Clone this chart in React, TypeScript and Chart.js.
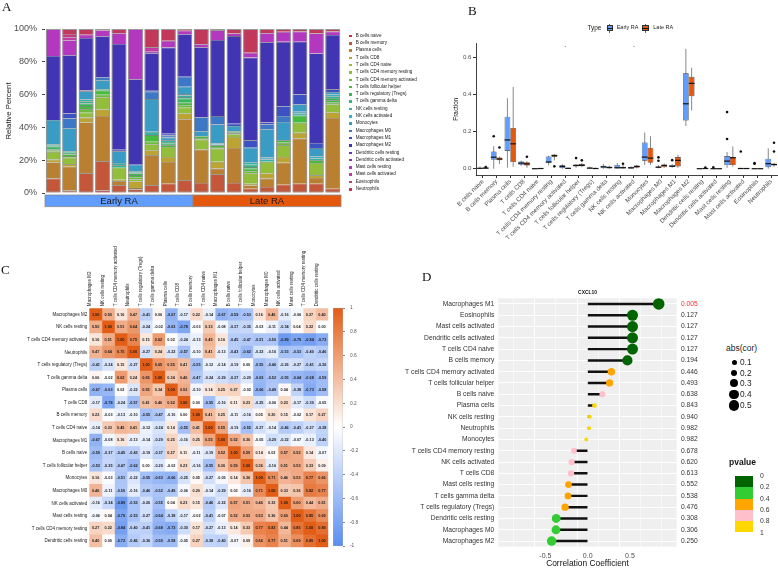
import React, { useEffect, useRef } from 'react';
import { Chart, registerables } from 'chart.js';

Chart.register(...registerables);

const FONT = "'Liberation Sans', Arial, Helvetica, sans-serif";
const SERIF = "'Liberation Serif', 'Times New Roman', serif";
const EARLY = '#619CFF';
const LATE = '#E4570C';

// ---------------- Panel A : relative composition ----------------
const cellTypes = [
  'B cells naive', 'B cells memory', 'Plasma cells', 'T cells CD8', 'T cells CD4 naive',
  'T cells CD4 memory resting', 'T cells CD4 memory activated', 'T cells follicular helper',
  'T cells regulatory (Tregs)', 'T cells gamma delta', 'NK cells resting', 'NK cells activated',
  'Monocytes', 'Macrophages M0', 'Macrophages M1', 'Macrophages M2', 'Dendritic cells resting',
  'Dendritic cells activated', 'Mast cells resting', 'Mast cells activated', 'Eosinophils', 'Neutrophils',
];
const cellColors = [
  '#C8323C', '#C4573A', '#B98032', '#BBA432', '#A7B534', '#93BE3C', '#6CBB3A', '#45BC3C',
  '#38B85A', '#36B581', '#35B3A2', '#37B2C2', '#3A9CC4', '#3C78C6', '#3C52C4', '#4235B4',
  '#6534BC', '#8934BC', '#B338BF', '#C23AA6', '#C23A7E', '#C2385A',
];
const sampleIds = ['E1', 'E2', 'E3', 'E4', 'E5', 'E6', 'E7', 'E8', 'E9', 'L1', 'L2', 'L3', 'L4', 'L5', 'L6', 'L7', 'L8', 'L9'];
const sampleGroups = ['Early RA', 'Early RA', 'Early RA', 'Early RA', 'Early RA', 'Early RA', 'Early RA', 'Early RA', 'Early RA',
  'Late RA', 'Late RA', 'Late RA', 'Late RA', 'Late RA', 'Late RA', 'Late RA', 'Late RA', 'Late RA'];
const groupNames = ['Early RA', 'Late RA'];
const groupColors = [EARLY, LATE];

const pctBNaive = [0, 0.5, 0, 1.6, 0, 0.4, 0, 0, 0, 0, 0, 0, 0, 0, 0, 0.6, 0, 0.6];
const pctBMemory = [8.8, 1, 12, 17.7, 4.7, 1.8, 4.7, 5.7, 7.7, 6.1, 11.4, 6.1, 2.6, 3.7, 5.1, 5.1, 5.7, 2];
const pctPlasma = [9.8, 14.5, 31, 27.7, 2.4, 0.8, 18.3, 13.2, 37.3, 20.4, 3.5, 21.4, 2, 5.1, 13.4, 27.5, 3.5, 43.2];
const pctCD8 = [1.8, 1.5, 3, 3.9, 1, 4, 3.1, 3.1, 3.5, 0, 4.1, 6.7, 1, 3.1, 3.5, 3.5, 1.6, 3.3];
const pctCD4Naive = [0, 0, 0, 0, 0, 0, 0, 0, 0, 0, 0, 0, 0, 0, 0, 0, 0, 0];
const pctCD4MemRest = [4.7, 4, 3, 7.5, 7.3, 1.3, 3.7, 6.1, 3.5, 6.1, 8.1, 1.5, 6.5, 7.1, 7.1, 6.1, 7.5, 4.9];
const pctCD4MemAct = [1, 1, 2, 1.5, 0, 1.3, 1.5, 0, 1.5, 1, 1, 0.7, 1.2, 0, 1.5, 0, 0, 1];
const pctTfh = [0.6, 1, 2, 2.5, 0, 1.3, 4, 1, 1.5, 1, 1, 0.7, 1.5, 0, 1.5, 4.3, 1.6, 1.5];
const pctTregs = [1.5, 1, 1.5, 0.9, 0, 1, 0, 1, 2.5, 0, 0, 0.5, 1, 0, 0, 0, 0, 1.5];
const pctGammaDelta = [0.6, 1, 1.5, 0, 1.5, 0.5, 0, 1, 1, 0, 0, 0, 1.5, 0, 0, 0, 0, 0];
const pctNKRest = [1, 0, 1, 0, 1.4, 0.5, 2, 1, 1, 0, 0.5, 0, 1.5, 1.5, 0, 1.2, 1.2, 1];
const pctNKAct = [0, 0, 0, 0, 0, 0.5, 0, 0, 0.8, 0, 0.6, 0, 0, 1.1, 0, 1.2, 1.2, 1.1];
const pctMonocytes = [14.7, 14, 5, 5.5, 7.1, 3.9, 20, 1.7, 4.5, 3.1, 11.6, 3.3, 8.8, 17.3, 11.2, 4.5, 5.1, 1.5];
const pctM0 = [0, 6, 0, 1.8, 0, 0, 4.5, 1.2, 6.1, 8.4, 5.1, 0, 0, 2.9, 3.7, 0, 0, 0];
const pctM1 = [0, 3, 0.5, 0, 1, 0, 1, 1.2, 0, 0, 0, 1.4, 4.5, 1.2, 5.9, 6.1, 3.1, 1.6];
const pctM2 = [39.1, 35.5, 32, 25, 64.5, 52.1, 22.4, 52.5, 25.9, 42.8, 46.4, 53.4, 50.5, 48.9, 39.3, 32.2, 54.6, 33.2];
const pctDCRest = [0, 0, 0, 0, 0, 0, 0, 0, 0, 0, 0, 0, 0, 0, 0, 0, 0, 0];
const pctDCAct = [0, 0, 0, 0, 0, 0, 1, 0, 0, 0, 0, 0, 0, 0, 0, 0, 0, 0];
const pctMastRest = [16.5, 9, 2, 3.5, 6.5, 30.6, 0, 4.1, 2.2, 1.8, 5.9, 1.6, 2.9, 5.5, 6.1, 6.1, 12.2, 2];
const pctMastAct = [0, 2, 0, 0.8, 0, 0, 2.6, 0, 0, 0, 0, 0, 0, 0, 0, 0, 0, 0];
const pctEosinophils = [0, 2, 0, 0, 0, 0, 0, 0, 0, 0, 0, 0, 0, 0, 0, 0, 0, 0];
const pctNeutrophils = [0, 3, 3.5, 0.1, 2.6, 0, 11.2, 7.1, 1, 9.4, 0.8, 2.6, 14.5, 2.6, 1.6, 1.6, 2.7, 1.6];
const fractions = [pctBNaive, pctBMemory, pctPlasma, pctCD8, pctCD4Naive, pctCD4MemRest, pctCD4MemAct, pctTfh,
  pctTregs, pctGammaDelta, pctNKRest, pctNKAct, pctMonocytes, pctM0, pctM1, pctM2, pctDCRest, pctDCAct,
  pctMastRest, pctMastAct, pctEosinophils, pctNeutrophils];

// ---------------- Panel B : boxplots [min, q1, median, q3, max] ----------------
const earlyBoxStats = [
  [0, 0, 0.002, 0.005, 0.012], [0, 0.048, 0.062, 0.093, 0.121], [0.005, 0.096, 0.155, 0.28, 0.38],
  [0.015, 0.021, 0.03, 0.039, 0.043], [0, 0, 0, 0.001, 0.001], [0.018, 0.032, 0.036, 0.066, 0.07],
  [0, 0.003, 0.012, 0.018, 0.025], [0.005, 0.013, 0.017, 0.022, 0.025], [0, 0.001, 0.003, 0.006, 0.012],
  [0, 0.002, 0.01, 0.016, 0.025], [0, 0.002, 0.005, 0.02, 0.03], [0, 0.002, 0.004, 0.01, 0.012],
  [0.02, 0.043, 0.0625, 0.141, 0.195], [0.002, 0.005, 0.008, 0.012, 0.02], [0.005, 0.01, 0.013, 0.02, 0.025],
  [0.23, 0.26, 0.35, 0.514, 0.646], [0, 0, 0, 0, 0], [0, 0, 0, 0, 0],
  [0.005, 0.018, 0.041, 0.068, 0.09], [0, 0, 0.001, 0.003, 0.005], [0, 0, 0, 0, 0], [0, 0.008, 0.027, 0.054, 0.11],
];
const lateBoxStats = [
  [0, 0.001, 0.003, 0.006, 0.008], [0.025, 0.045, 0.052, 0.061, 0.065], [0.01, 0.036, 0.134, 0.22, 0.441],
  [0.005, 0.017, 0.026, 0.035, 0.04], [0, 0, 0.001, 0.001, 0.002], [0.045, 0.065, 0.07, 0.077, 0.078],
  [0, 0.001, 0.002, 0.004, 0.006], [0.008, 0.013, 0.018, 0.025, 0.03], [0, 0, 0.001, 0.004, 0.006],
  [0, 0.002, 0.006, 0.012, 0.016], [0, 0.002, 0.005, 0.01, 0.02], [0.002, 0.005, 0.012, 0.017, 0.02],
  [0.02, 0.032, 0.057, 0.1125, 0.175], [0.005, 0.008, 0.018, 0.021, 0.028], [0.005, 0.012, 0.045, 0.0625, 0.075],
  [0.314, 0.391, 0.46, 0.495, 0.545], [0, 0, 0.001, 0.002, 0.003], [0, 0, 0, 0, 0.001],
  [0.01, 0.02, 0.059, 0.065, 0.12], [0, 0, 0.001, 0.002, 0.003], [0, 0, 0, 0, 0], [0.01, 0.018, 0.022, 0.028, 0.03],
];
const earlyOutliers = [[], [0.175], [], [], [], [], [], [0.057], [], [], [], [], [], [0.061, 0.043], [0.046], [], [], [0.007], [0.305, 0.16], [0.093], [0.03, 0.027], []];
const lateOutliers = [[0.009], [0.114], [], [0.064], [], [0.0125], [], [0.045], [], [], [0.027], [], [], [], [], [], [0.006], [], [], [], [], [0.14, 0.093]];
const signifMarks = ['', '', '', '', '', '', '.', '', '', '', '', '.', '', '', '', '', '', '', '', '', '', ''];
const signifLevel = 0.66;
const fractionTicks = [0, 0.2, 0.4, 0.6];

// ---------------- Panel C : correlation heatmap ----------------
const corrNames = [
  'Macrophages M2', 'NK cells resting', 'T cells CD4 memory activated', 'Neutrophils',
  'T cells regulatory (Tregs)', 'T cells gamma delta', 'Plasma cells', 'T cells CD8', 'B cells memory',
  'T cells CD4 naive', 'Macrophages M1', 'B cells naive', 'T cells follicular helper', 'Monocytes',
  'Macrophages M0', 'NK cells activated', 'Mast cells resting', 'T cells CD4 memory resting', 'Dendritic cells resting',
];
const corrMatrix = [
  [1.00, 0.50, 0.16, 0.47, -0.41, 0.06, -0.67, -0.17, 0.22, -0.14, -0.67, -0.59, -0.53, 0.16, 0.46, -0.16, -0.06, 0.27, 0.40],
  [0.50, 1.00, 0.51, 0.64, -0.24, -0.02, -0.63, -0.78, -0.03, 0.33, -0.08, -0.37, -0.35, -0.03, -0.11, -0.34, 0.04, 0.22, 0.00],
  [0.16, 0.51, 1.00, 0.75, 0.15, 0.62, 0.02, -0.24, -0.13, 0.45, 0.16, -0.45, -0.47, -0.51, -0.50, -0.89, -0.79, -0.84, -0.72],
  [0.47, 0.64, 0.75, 1.00, -0.27, 0.24, -0.22, -0.57, -0.10, 0.41, -0.13, -0.43, -0.62, -0.22, -0.16, -0.53, -0.53, -0.40, -0.46],
  [-0.41, -0.24, 0.15, -0.27, 1.00, 0.65, 0.55, 0.41, -0.55, -0.12, -0.14, -0.19, 0.00, -0.55, -0.46, -0.26, -0.27, -0.41, -0.36],
  [0.06, -0.02, 0.62, 0.24, 0.65, 1.00, 0.34, 0.46, -0.47, -0.24, -0.29, -0.37, -0.20, -0.63, -0.52, -0.55, -0.64, -0.68, -0.59],
  [-0.67, -0.63, 0.02, -0.22, 0.55, 0.34, 1.00, 0.52, -0.10, 0.14, 0.25, 0.27, -0.02, -0.66, -0.49, 0.04, -0.38, -0.73, -0.58],
  [-0.17, -0.78, -0.24, -0.57, 0.41, 0.46, 0.52, 1.00, 0.00, -0.55, -0.16, 0.11, 0.23, -0.25, -0.06, 0.23, -0.17, -0.30, -0.05],
  [0.22, -0.03, -0.13, -0.10, -0.55, -0.47, -0.10, 0.00, 1.00, 0.41, 0.25, -0.11, -0.16, 0.05, 0.20, 0.15, -0.02, 0.17, 0.27],
  [-0.14, 0.33, 0.45, 0.41, -0.12, -0.24, 0.14, -0.55, 0.41, 1.00, 0.55, -0.19, -0.55, -0.27, -0.14, -0.46, -0.41, -0.27, -0.38],
  [-0.67, -0.08, 0.16, -0.13, -0.14, -0.29, 0.25, -0.16, 0.25, 0.55, 1.00, 0.52, 0.36, -0.05, -0.29, -0.22, -0.07, -0.13, -0.40],
  [-0.59, -0.37, -0.45, -0.43, -0.19, -0.37, 0.27, 0.11, -0.11, -0.19, 0.52, 1.00, 0.59, 0.14, 0.03, 0.57, 0.52, 0.14, -0.07],
  [-0.53, -0.35, -0.47, -0.62, 0.00, -0.20, -0.02, 0.23, -0.16, -0.55, 0.36, 0.59, 1.00, 0.36, -0.16, 0.51, 0.53, 0.33, 0.09],
  [0.16, -0.03, -0.51, -0.22, -0.55, -0.63, -0.66, -0.25, 0.05, -0.27, -0.05, 0.14, 0.36, 1.00, 0.71, 0.46, 0.53, 0.77, 0.66],
  [0.46, -0.11, -0.50, -0.16, -0.46, -0.52, -0.49, -0.06, 0.20, -0.14, -0.29, 0.03, -0.16, 0.71, 1.00, 0.33, 0.36, 0.82, 0.77],
  [-0.16, -0.34, -0.89, -0.53, -0.26, -0.55, 0.04, 0.23, 0.15, -0.46, -0.22, 0.57, 0.51, 0.46, 0.33, 1.00, 0.60, 0.44, 0.51],
  [-0.06, 0.04, -0.79, -0.53, -0.27, -0.64, -0.38, -0.17, -0.02, -0.41, -0.07, 0.52, 0.53, 0.53, 0.36, 0.60, 1.00, 0.85, 0.69],
  [0.27, 0.22, -0.84, -0.40, -0.41, -0.68, -0.73, -0.30, 0.17, -0.27, -0.13, 0.14, 0.33, 0.77, 0.82, 0.44, 0.85, 1.00, 0.89],
  [0.40, 0.00, -0.72, -0.46, -0.36, -0.59, -0.58, -0.05, 0.27, -0.38, -0.40, -0.07, 0.09, 0.66, 0.77, 0.51, 0.69, 0.89, 1.00],
];
const corrLow = [91, 141, 239];
const corrHigh = [226, 93, 22];

// ---------------- Panel D : lollipop ----------------
const lolliCells = [
  'Macrophages M1', 'Eosinophils', 'Mast cells activated', 'Dendritic cells activated', 'T cells CD4 naive',
  'B cells memory', 'T cells CD4 memory activated', 'T cells follicular helper', 'B cells naive', 'Plasma cells',
  'NK cells resting', 'Neutrophils', 'Monocytes', 'T cells CD4 memory resting', 'NK cells activated', 'T cells CD8',
  'Mast cells resting', 'T cells gamma delta', 'T cells regulatory (Tregs)', 'Dendritic cells resting',
  'Macrophages M0', 'Macrophages M2',
];
const lolliCor = [0.84, 0.53, 0.53, 0.53, 0.53, 0.47, 0.28, 0.26, 0.175, 0.08, 0.027, 0.017, -0.017,
  -0.162, -0.19, -0.197, -0.227, -0.233, -0.267, -0.372, -0.375, -0.426];
const lolliP = ['0.005', '0.127', '0.127', '0.127', '0.127', '0.194', '0.446', '0.493', '0.638', '0.843', '0.940',
  '0.982', '0.982', '0.678', '0.620', '0.613', '0.552', '0.538', '0.476', '0.308', '0.306', '0.250'];
const pBreaks = [0, 0.2, 0.4, 0.6, 0.8, 1];
const pColors = ['#006400', '#32CD32', '#FFA500', '#FFC0CB', '#FFD700'];
const sizeBreaks = [0.1, 0.2, 0.3, 0.4, 0.5];
const corTicks = [-0.5, 0, 0.5];

function corrColor(v: number) {
  const t = Math.min(1, Math.abs(v));
  const c = v >= 0 ? corrHigh : corrLow;
  const m = (a: number) => Math.round(255 + (a - 255) * t);
  return `rgb(${m(c[0])},${m(c[1])},${m(c[2])})`;
}
function pColor(p: number) {
  for (let i = 0; i < pColors.length; i++) if (p <= pBreaks[i + 1]) return pColors[i];
  return pColors[pColors.length - 1];
}
function dotRadius(v: number) {
  return Math.min(5.8, 1.8 + 7 * Math.abs(v));
}

// ---------------- plugins ----------------
const groupStripPlugin = {
  id: 'groupStrip',
  afterDraw(chart: any) {
    const { ctx, chartArea } = chart;
    const x = chart.scales.x;
    const top = chartArea.bottom + 2;
    const h = 11.7;
    groupNames.forEach((g, gi) => {
      const idx = sampleGroups.map((s, i) => (s === g ? i : -1)).filter((i) => i >= 0);
      const first = idx[0];
      const last = idx[idx.length - 1];
      const left = first === 0 ? chartArea.left : (x.getPixelForValue(first - 1) + x.getPixelForValue(first)) / 2;
      const right = last === sampleIds.length - 1 ? chartArea.right : (x.getPixelForValue(last) + x.getPixelForValue(last + 1)) / 2;
      ctx.save();
      ctx.fillStyle = groupColors[gi];
      ctx.fillRect(left, top, right - left, h);
      ctx.strokeStyle = '#8a8a8a';
      ctx.lineWidth = 0.8;
      ctx.strokeRect(left, top, right - left, h);
      ctx.fillStyle = '#1a1a1a';
      ctx.font = `9.5px ${FONT}`;
      ctx.textAlign = 'center';
      ctx.textBaseline = 'middle';
      ctx.fillText(g, (left + right) / 2, top + h / 2 + 0.5);
      ctx.restore();
    });
  },
};

const boxPlugin = {
  id: 'boxExtras',
  beforeDatasetsDraw(chart: any) {
    const { ctx } = chart;
    const y = chart.scales.y;
    [earlyBoxStats, lateBoxStats].forEach((stats, d) => {
      const meta = chart.getDatasetMeta(d);
      meta.data.forEach((el: any, i: number) => {
        const s = stats[i];
        ctx.save();
        ctx.strokeStyle = '#6a6a6a';
        ctx.lineWidth = 0.8;
        ctx.beginPath();
        ctx.moveTo(el.x, y.getPixelForValue(s[0]));
        ctx.lineTo(el.x, y.getPixelForValue(s[4]));
        ctx.stroke();
        ctx.restore();
      });
    });
  },
  afterDatasetsDraw(chart: any) {
    const { ctx } = chart;
    const y = chart.scales.y;
    const x = chart.scales.x;
    [earlyBoxStats, lateBoxStats].forEach((stats, d) => {
      const outs = d === 0 ? earlyOutliers : lateOutliers;
      const meta = chart.getDatasetMeta(d);
      meta.data.forEach((el: any, i: number) => {
        const s = stats[i];
        const py = y.getPixelForValue(s[2]);
        ctx.save();
        ctx.strokeStyle = '#111';
        ctx.lineWidth = 1.2;
        ctx.beginPath();
        ctx.moveTo(el.x - el.width / 2, py);
        ctx.lineTo(el.x + el.width / 2, py);
        ctx.stroke();
        ctx.fillStyle = '#111';
        outs[i].forEach((o: number) => {
          ctx.beginPath();
          ctx.arc(el.x, y.getPixelForValue(o), 1.3, 0, Math.PI * 2);
          ctx.fill();
        });
        ctx.restore();
      });
    });
    ctx.save();
    ctx.fillStyle = '#111';
    ctx.font = `7px ${FONT}`;
    ctx.textAlign = 'center';
    ctx.textBaseline = 'alphabetic';
    signifMarks.forEach((m, i) => {
      if (m) ctx.fillText(m, x.getPixelForValue(i), y.getPixelForValue(signifLevel) + 1);
    });
    ctx.restore();
  },
};

const cellTextPlugin = {
  id: 'cellText',
  afterDatasetsDraw(chart: any) {
    const { ctx } = chart;
    ctx.save();
    ctx.font = `600 3.8px ${FONT}`;
    ctx.fillStyle = '#1a1a1a';
    ctx.textAlign = 'center';
    ctx.textBaseline = 'middle';
    chart.data.datasets.forEach((_ds: any, j: number) => {
      const meta = chart.getDatasetMeta(j);
      meta.data.forEach((el: any, r: number) => {
        ctx.fillText(corrMatrix[r][j].toFixed(2), (el.x + el.base) / 2, el.y);
      });
    });
    ctx.restore();
  },
};

const panelBgPlugin = {
  id: 'panelBg',
  beforeDraw(chart: any) {
    const { ctx, chartArea } = chart;
    ctx.save();
    ctx.fillStyle = '#EFEFEF';
    ctx.fillRect(chartArea.left, chartArea.top, chartArea.right - chartArea.left, chartArea.bottom - chartArea.top);
    ctx.restore();
  },
};

const base = {
  responsive: false,
  maintainAspectRatio: false,
  animation: false,
  devicePixelRatio: 1,
};
const noLegend = { legend: { display: false }, tooltip: { enabled: false } };

function Txt(props: any) {
  const { x, y, size, children, color, weight, family, align } = props;
  const style: any = {
    position: 'absolute', top: y - size / 2, fontSize: size, lineHeight: 1, fontFamily: family || FONT,
    color: color || '#222', whiteSpace: 'nowrap', fontWeight: weight || 'normal',
  };
  if (align === 'center') { style.left = x; style.transform = 'translateX(-50%)'; } else { style.left = x; }
  return <div style={style}>{children}</div>;
}

function BoxKey(props: any) {
  const { x, y, color } = props;
  return (
    <div style={{ position: 'absolute', left: x, top: y - 4.5, width: 6.5, height: 9 }}>
      <div style={{ position: 'absolute', left: 2.9, top: 0, width: 0.7, height: 9, background: '#666' }} />
      <div style={{ position: 'absolute', left: 0, top: 1.5, width: 6.5, height: 6, background: color, border: '0.6px solid #333', boxSizing: 'border-box' }} />
      <div style={{ position: 'absolute', left: 0, top: 4.1, width: 6.5, height: 0.9, background: '#111' }} />
    </div>
  );
}

export default function App() {
  const aRef = useRef<HTMLCanvasElement>(null);
  const bRef = useRef<HTMLCanvasElement>(null);
  const cRef = useRef<HTMLCanvasElement>(null);
  const cbRef = useRef<HTMLCanvasElement>(null);
  const dRef = useRef<HTMLCanvasElement>(null);

  useEffect(() => {
    Chart.defaults.font.family = FONT;
    const charts: any[] = [];

    // Panel A
    charts.push(new Chart(aRef.current as any, {
      type: 'bar',
      data: {
        labels: sampleIds,
        datasets: [
          ...cellTypes.map((name, i) => ({
            label: name, data: fractions[i], backgroundColor: cellColors[i],
            borderColor: 'rgba(30,30,30,0.75)', borderWidth: { top: 0.6, right: 0, bottom: 0, left: 0 },
            stack: 's', barPercentage: 0.9, categoryPercentage: 1, xAxisID: 'x', yAxisID: 'y', order: 1,
          })),
          {
            label: 'outline', data: sampleIds.map(() => 100), backgroundColor: 'rgba(0,0,0,0)',
            borderColor: '#9a9a9a', borderWidth: 1, borderSkipped: false, stack: 'outline', grouped: false,
            barPercentage: 0.9, categoryPercentage: 1, xAxisID: 'x', yAxisID: 'y', order: 0,
          },
        ],
      },
      options: {
        ...base,
        layout: { padding: { top: 29, right: 4, bottom: 19, left: 0 } },
        plugins: noLegend,
        scales: {
          x: { stacked: true, display: false },
          y: {
            stacked: true, min: 0, max: 100,
            border: { display: false },
            grid: { display: true, drawOnChartArea: false, drawTicks: true, tickLength: 3, color: '#444' },
            ticks: { stepSize: 20, callback: (v: any) => v + '%', font: { size: 9 }, color: '#4D4D4D', padding: 5 },
            title: { display: true, text: 'Relative Percent', font: { size: 7.8 }, color: '#111', padding: { top: 4, bottom: 0 } },
            afterFit: (s: any) => { s.width = 45; },
          },
        },
      } as any,
      plugins: [groupStripPlugin],
    } as any));

    // Panel B
    charts.push(new Chart(bRef.current as any, {
      type: 'bar',
      data: {
        labels: cellTypes,
        datasets: [
          { label: 'Early RA', data: earlyBoxStats.map((s) => [s[1], s[3]]), backgroundColor: EARLY, borderColor: '#333', borderWidth: 0.6, borderSkipped: false, categoryPercentage: 0.84, barPercentage: 1, xAxisID: 'x', yAxisID: 'y' },
          { label: 'Late RA', data: lateBoxStats.map((s) => [s[1], s[3]]), backgroundColor: LATE, borderColor: '#333', borderWidth: 0.6, borderSkipped: false, categoryPercentage: 0.84, barPercentage: 1, xAxisID: 'x', yAxisID: 'y' },
        ],
      },
      options: {
        ...base,
        layout: { padding: { top: 7.3, right: 0, bottom: 0, left: 0 } },
        plugins: noLegend,
        scales: {
          x: {
            type: 'category', offset: true,
            grid: { display: true, drawOnChartArea: false, drawTicks: true, tickLength: 3, color: '#333', offset: false },
            border: { display: true, color: '#111', width: 0.8 },
            ticks: { autoSkip: false, minRotation: 45, maxRotation: 45, font: { size: 6.2 }, color: '#4D4D4D', padding: 0 },
            afterFit: (s: any) => { s.height = 75; },
          },
          y: {
            min: -0.034, max: 0.676,
            grid: { display: true, drawOnChartArea: false, drawTicks: true, tickLength: 3, color: '#333' },
            border: { display: true, color: '#111', width: 0.8 },
            afterBuildTicks: (s: any) => { s.ticks = fractionTicks.map((v) => ({ value: v })); },
            ticks: { callback: (v: any) => Number(v).toFixed(1), font: { size: 6.2 }, color: '#4D4D4D', padding: 1.5 },
            title: { display: true, text: 'Fraction', font: { size: 6.4 }, color: '#111', padding: { top: 12, bottom: 0 } },
            afterFit: (s: any) => { s.width = 36; },
          },
        },
      } as any,
      plugins: [boxPlugin],
    } as any));

    // Panel C heatmap
    charts.push(new Chart(cRef.current as any, {
      type: 'bar',
      data: {
        labels: corrNames,
        datasets: corrNames.map((col, j) => ({
          label: col,
          data: corrNames.map(() => 1),
          backgroundColor: corrNames.map((_r, r) => corrColor(corrMatrix[r][j])),
          borderWidth: 0, barPercentage: 1, categoryPercentage: 1, xAxisID: 'x', yAxisID: 'y',
        })),
      },
      options: {
        ...base,
        indexAxis: 'y',
        layout: { padding: { top: 0, right: 1.7, bottom: 5.7, left: 0 } },
        plugins: noLegend,
        scales: {
          x: { type: 'linear', stacked: true, min: 0, max: corrNames.length, display: false },
          y: {
            type: 'category', stacked: true,
            grid: { display: false, drawTicks: false }, border: { display: false },
            ticks: { autoSkip: false, font: { size: 4.5 }, color: '#222', padding: 2 },
            afterFit: (s: any) => { s.width = 89.3; },
          },
          xTop: {
            type: 'category', position: 'top', labels: corrNames, offset: true,
            grid: { display: false, drawTicks: false }, border: { display: false },
            ticks: { autoSkip: false, minRotation: 90, maxRotation: 90, font: { size: 4.5 }, color: '#222', padding: 2 },
            afterFit: (s: any) => { s.height = 70.3; },
          },
        },
      } as any,
      plugins: [cellTextPlugin],
    } as any));

    // Panel C colorbar
    charts.push(new Chart(cbRef.current as any, {
      type: 'bar',
      data: {
        labels: ['r'],
        datasets: [{
          data: [[-1, 1]],
          backgroundColor: (ctx: any) => {
            const area = ctx.chart.chartArea;
            if (!area) return '#fff';
            const g = ctx.chart.ctx.createLinearGradient(0, area.bottom, 0, area.top);
            g.addColorStop(0, corrColor(-1));
            g.addColorStop(0.5, corrColor(0));
            g.addColorStop(1, corrColor(1));
            return g;
          },
          borderColor: '#aaa', borderWidth: 0.6, borderSkipped: false, barPercentage: 1, categoryPercentage: 1,
        }],
      },
      options: {
        ...base,
        layout: { padding: { top: 8, right: 0, bottom: 9, left: 8 } },
        plugins: noLegend,
        scales: {
          x: { display: false },
          y: {
            position: 'right', min: -1, max: 1,
            grid: { display: true, drawOnChartArea: false, drawTicks: true, tickLength: 2, color: '#888' },
            border: { display: false },
            ticks: { stepSize: 0.2, callback: (v: any) => String(Math.round(Number(v) * 10) / 10), font: { size: 4.8 }, color: '#555', padding: 5 },
            afterFit: (s: any) => { s.width = 27; },
          },
        },
      } as any,
    } as any));

    // Panel D lollipop
    charts.push(new Chart(dRef.current as any, {
      type: 'bar',
      data: {
        labels: lolliCells,
        datasets: [
          {
            type: 'scatter', label: 'cor', data: lolliCor.map((v, i) => ({ x: v, y: i })), xAxisID: 'x', yAxisID: 'y',
            pointRadius: lolliCor.map(dotRadius), pointHoverRadius: lolliCor.map(dotRadius),
            pointBackgroundColor: lolliP.map((p) => pColor(Number(p))), pointBorderWidth: 0, order: 0,
          },
          {
            type: 'bar', label: 'seg', indexAxis: 'y', data: lolliCor.map((v) => [0, v]), xAxisID: 'x', yAxisID: 'y',
            backgroundColor: '#111', barThickness: 1.8, order: 1,
          },
        ],
      },
      options: {
        ...base,
        layout: { padding: { top: 13.3, right: 0, bottom: 0, left: 0 } },
        plugins: noLegend,
        scales: {
          x: {
            type: 'linear', min: -0.906, max: 0.902,
            grid: { color: '#fff', lineWidth: (c: any) => (c.tick && Math.abs(c.tick.value * 2 - Math.round(c.tick.value * 2)) < 1e-6 ? 1 : 0.5), drawTicks: false },
            border: { display: false },
            ticks: { stepSize: 0.25, includeBounds: false, callback: (v: any) => (corTicks.some((t) => Math.abs(t - Number(v)) < 1e-6) ? Number(v).toFixed(1) : ''), font: { size: 7 }, color: '#4D4D4D', padding: 5 },
            title: { display: true, text: 'Correlation Coefficient', font: { size: 8.4 }, color: '#111', padding: { top: 0, bottom: 0 } },
            afterFit: (s: any) => { s.height = 22.3; },
          },
          y: {
            type: 'category', offset: true,
            grid: { color: '#fff', lineWidth: 0.9, offset: false, drawTicks: false },
            border: { display: false },
            ticks: { autoSkip: false, font: { size: 6.7 }, color: '#333', padding: 4 },
            afterFit: (s: any) => { s.width = 98.3; },
          },
          y2: {
            type: 'category', position: 'right', labels: lolliP, offset: true,
            grid: { display: false, drawTicks: false }, border: { display: false },
            ticks: { autoSkip: false, font: { size: 6.7 }, color: (c: any) => (c.index === 0 ? '#FF2B2B' : '#333'), padding: 4.3 },
            afterFit: (s: any) => { s.width = 33.3; },
          },
        },
      } as any,
      plugins: [panelBgPlugin],
    } as any));

    return () => charts.forEach((c) => c.destroy());
  }, []);

  const cv = (left: number, top: number, w: number, h: number) => ({
    position: 'absolute' as const, left, top, width: w, height: h, display: 'block',
  });

  return (
    <div style={{ position: 'fixed', left: 0, top: 0, width: 778, height: 569, background: '#fff', overflow: 'hidden' }}>
      <canvas ref={aRef} width={345} height={212} style={cv(0, 0, 345, 212)} />
      <canvas ref={bRef} width={338} height={214} style={cv(440, 36, 338, 214)} />
      <canvas ref={cRef} width={330} height={315} style={cv(0, 238, 330, 315)} />
      <canvas ref={cbRef} width={45} height={255} style={cv(325, 300, 45, 255)} />
      <canvas ref={dRef} width={310} height={284} style={cv(400, 285, 310, 284)} />

      {/* panel letters */}
      <Txt x={2} y={6} size={13} family={SERIF} color="#111">A</Txt>
      <Txt x={468} y={10.5} size={13} family={SERIF} color="#111">B</Txt>
      <Txt x={1} y={269.5} size={13} family={SERIF} color="#111">C</Txt>
      <Txt x={422} y={276} size={13} family={SERIF} color="#111">D</Txt>

      {/* panel A legend */}
      {cellTypes.map((name, i) => (
        <React.Fragment key={name}>
          <div style={{ position: 'absolute', left: 349, top: 36 + i * 7.3 - 1.3, width: 2.6, height: 2.6, background: cellColors[i] }} />
          <Txt x={355.7} y={36 + i * 7.3} size={4.6} color="#222">{name}</Txt>
        </React.Fragment>
      ))}

      {/* panel B legend */}
      <Txt x={587.5} y={28} size={6.4} color="#222">Type</Txt>
      <BoxKey x={606.5} y={28} color={EARLY} />
      <Txt x={616.7} y={28} size={5.5} color="#222">Early RA</Txt>
      <BoxKey x={642} y={28} color={LATE} />
      <Txt x={653.3} y={28} size={5.5} color="#222">Late RA</Txt>

      {/* panel D title and legends */}
      <Txt x={587.5} y={293.3} size={4.9} weight="bold" align="center" color="#111">CXCL10</Txt>
      <Txt x={726} y={348.3} size={8.5} color="#222">abs(cor)</Txt>
      {sizeBreaks.map((s, i) => {
        const r = dotRadius(s);
        const cy = [362.3, 372.7, 383.3, 394.3, 405.3][i];
        return (
          <React.Fragment key={s}>
            <div style={{ position: 'absolute', left: 734 - r, top: cy - r, width: 2 * r, height: 2 * r, borderRadius: '50%', background: '#000' }} />
            <Txt x={740} y={cy} size={8.3} color="#222">{s.toFixed(1)}</Txt>
          </React.Fragment>
        );
      })}
      <Txt x={729} y={462.7} size={8.5} weight="bold" color="#111">pvalue</Txt>
      {pColors.map((c, i) => (
        <div key={c} style={{ position: 'absolute', left: 735, top: 476 + i * 11.3, width: 18.3, height: 11.3, background: c }} />
      ))}
      {pBreaks.map((b, i) => (
        <Txt key={b} x={760} y={476.5 + i * 11.3} size={6.8} color="#333">{String(b)}</Txt>
      ))}
    </div>
  );
}
